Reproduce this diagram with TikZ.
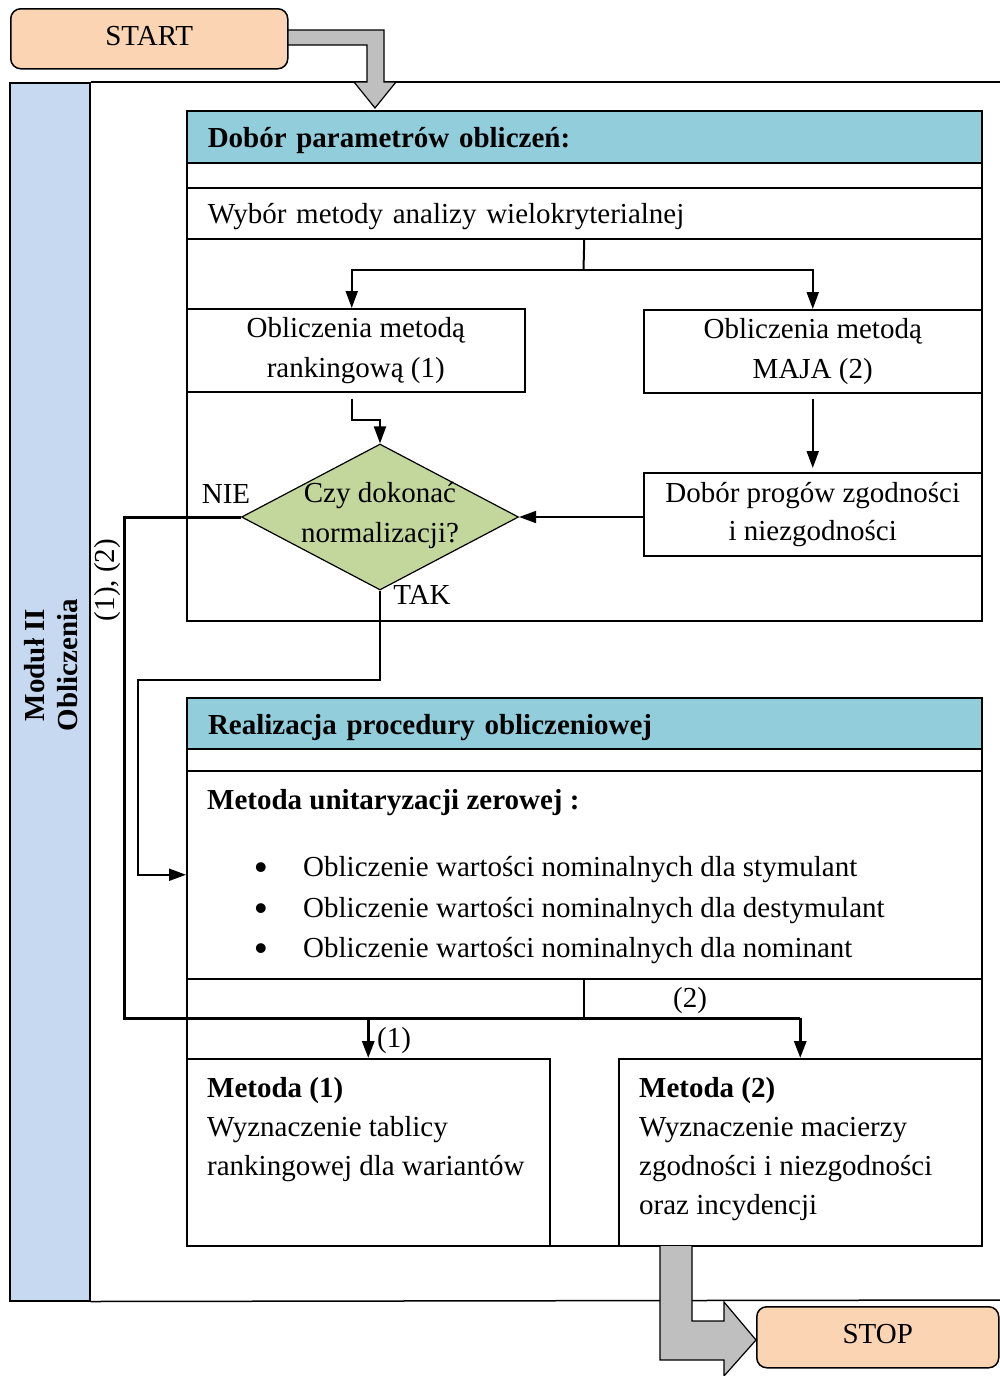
\documentclass[tikz,border=0pt]{standalone}
\usepackage{fontspec}
\setmainfont{Liberation Serif}
\usetikzlibrary{shapes.geometric,arrows.meta}
\definecolor{peach}{HTML}{FBD4B4}
\definecolor{hdr}{HTML}{92CDDC}
\definecolor{dgreen}{HTML}{C3D69B}
\definecolor{stripc}{HTML}{C6D9F1}
\definecolor{garrow}{HTML}{BFBFBF}
\begin{document}
\begin{tikzpicture}[x=1pt,y=-1pt,
  every node/.style={font=\fontsize{29}{40}\selectfont, inner sep=0pt},
  bx/.style={draw, line width=1.5pt, fill=white, anchor=north west},
  hdrbox/.style={draw, line width=1.5pt, fill=hdr, anchor=north west, minimum width=795pt, text width=753pt, inner xsep=21pt, align=left, text height=27pt, text depth=6pt, font=\fontsize{29}{40}\selectfont\bfseries},
  dia/.style={diamond, draw, fill=dgreen, line width=1.2pt, minimum width=277pt, minimum height=146pt, aspect=1.9},
  term/.style={draw, line width=1.5pt, fill=peach, rounded corners=10pt, anchor=north west},
  conn/.style={line width=2pt},
  thickc/.style={line width=3pt},
  arr/.style={-{Triangle[length=17pt,width=12pt]}},
  grey/.style={draw, line width=1.2pt, fill=garrow},
  bul/.style={font=\fontsize{36}{36}\selectfont\bfseries, anchor=base, text height=8pt, text depth=0pt}
]
\useasboundingbox (0,0) rectangle (1000,1376);

% module frame
\node[draw, line width=1.5pt, fill=stripc, anchor=north west, minimum width=80pt, minimum height=1218pt] (mod) at (9,82) {};
\draw[line width=1.5pt] (mod.north east) -- (1000,82);
\draw[line width=1.5pt] (mod.south east) -- (1000,1300);
\node[rotate=90, align=center, font=\fontsize{29}{33}\selectfont\bfseries] (modt) at (51,665) {Moduł II\\Obliczenia};
\node[rotate=90] (l12) at (108,580) {(1), (2)};

% upper panel
\node[bx, minimum width=795pt, minimum height=510pt] (p1) at (186,110) {};
\node[hdrbox, minimum height=52pt] (h1) at (186,110) {Dobór parametrów obliczeń:};
\node[bx, minimum width=795pt, minimum height=51pt, text width=753pt, inner xsep=21pt, align=left, text height=26pt, text depth=6pt] (wyb) at (186,187) {Wybór metody analizy wielokryterialnej};
\node[bx, minimum width=338pt, minimum height=83pt, align=center] (r1) at (186,308) {Obliczenia metodą\\rankingową (1)};
\node[bx, minimum width=338pt, minimum height=83pt, align=center] (mj) at (643,309) {Obliczenia metodą\\MAJA (2)};
\node[bx, minimum width=338pt, minimum height=83pt, align=center, font=\fontsize{29}{38}\selectfont] (pg) at (643,472) {Dobór progów zgodności\\i niezgodności};
\node[dia] (d) at (380,517) {};
\node[align=center] (dt) at ([yshift=2pt]d.center) {Czy dokonać\\normalizacji?};
\node (nie) at (226,494) {NIE};
\node (tak) at (422,595) {TAK};

% lower panel
\node[bx, minimum width=795pt, minimum height=548pt] (p2) at (186,697) {};
\node[hdrbox, minimum height=51pt, line width=2pt] (h2) at (186,697) {Realizacja procedury obliczeniowej};
\node[bx, minimum width=795pt, minimum height=208pt] (u) at (186,770) {};
\node[anchor=west, font=\fontsize{29}{40}\selectfont\bfseries] (ut) at (207,803) {Metoda unitaryzacji zerowej :};
\node[bul] (b1) at (261,879) {•};
\node[bul] (b2) at (261,920) {•};
\node[bul] (b3) at (261,960) {•};
\node[anchor=west] (t1) at (303,870) {Obliczenie wartości nominalnych dla stymulant};
\node[anchor=west] (t2) at (303,911) {Obliczenie wartości nominalnych dla destymulant};
\node[anchor=west] (t3) at (303,951) {Obliczenie wartości nominalnych dla nominant};
\node[bx, minimum width=363pt, minimum height=187pt] (m1) at (186,1058) {};
\node[bx, minimum width=363pt, minimum height=187pt] (m2) at (618,1058) {};
\node[anchor=north west, align=left, font=\fontsize{29}{39}\selectfont] (m1t) at (207,1077) {\textbf{Metoda (1)}\\Wyznaczenie tablicy\\rankingowej dla wariantów};
\node[anchor=north west, align=left, font=\fontsize{29}{39}\selectfont] (m2t) at (639,1077) {\textbf{Metoda (2)}\\Wyznaczenie macierzy\\zgodności i niezgodności\\oraz incydencji};
\node (l2) at (690,1001) {(2)};
\node (l1) at (394,1041) {(1)};

% connectors, upper panel
\coordinate (s1) at (583.5,270);
\draw[conn] (wyb.south) -- (s1);
\draw[conn, arr] (s1) -| ([xshift=-4pt]r1.north);
\draw[conn, arr] (s1) -| (mj.north);
\draw[conn, arr] ([xshift=-4pt, yshift=-6pt]r1.south) -- ++(0,21) -| (d.north);
\draw[conn, arr, shorten >=4pt] ([yshift=-5pt]mj.south) -- (pg.north);
\draw[conn, arr] (pg.west |- d.east) -- (d.east);

% NIE path
\coordinate (n1) at (124,1018);
\draw[thickc] (d.west) -| (n1) -- (n1 -| m2.north);
\draw[conn] (u.south) -- (u.south |- n1);
\draw[thickc, arr] (n1 -| m1.north) -- (m1.north);
\draw[thickc, arr] (n1 -| m2.north) -- (m2.north);

% TAK path
\coordinate (k1) at (138,680);
\draw[conn, arr] (d.south) |- (k1) |- (u.west);

% grey block arrows
\draw[grey] (287,30) -- (384,30) -- (384,82) -- (396,82) -- (375,108) -- (354,82) -- (367,82) -- (367,45) -- (287,45);
\draw[grey] (692,1246) -- (692,1321) -- (724,1321) -- (724,1302) -- (756,1340) -- (724,1376) -- (724,1360) -- (660,1360) -- (660,1246);

% terminals
\node[term, minimum width=277pt, minimum height=60pt] (start) at (10,8) {};
\node (startt) at ([yshift=3pt]start.center) {START};
\node[term, minimum width=242pt, minimum height=61pt] (stop) at (756,1306) {};
\node (stopt) at ([yshift=3pt]stop.center) {STOP};
\end{tikzpicture}
\end{document}
